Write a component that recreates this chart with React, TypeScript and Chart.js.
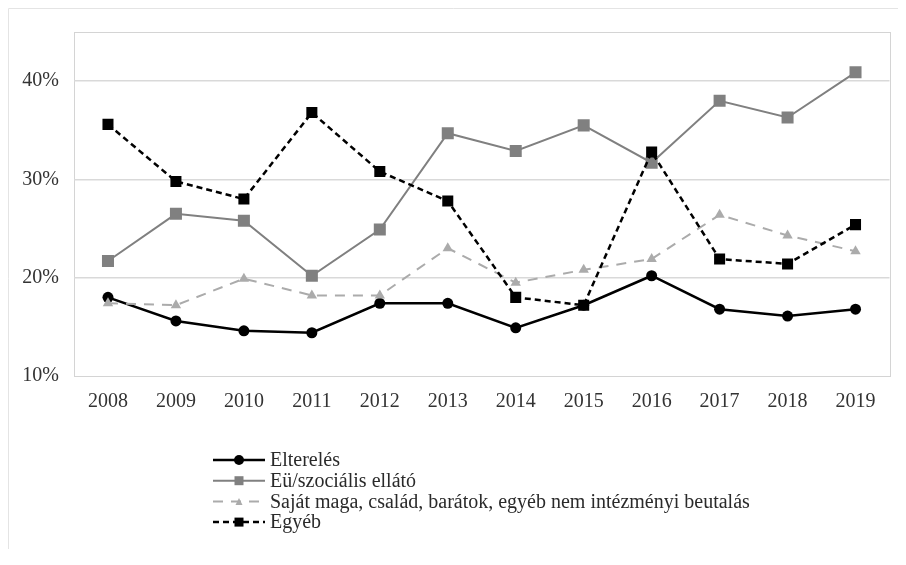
import React, { useEffect, useRef } from "react";
import { Chart, registerables } from "chart.js";

Chart.register(...registerables);

const years = ["2008", "2009", "2010", "2011", "2012", "2013", "2014", "2015", "2016", "2017", "2018", "2019"];
const elterelesValues = [18.0, 15.6, 14.6, 14.4, 17.4, 17.4, 14.9, 17.2, 20.2, 16.8, 16.1, 16.8];
const euValues = [21.7, 26.5, 25.8, 20.2, 24.9, 34.7, 32.9, 35.5, 31.7, 38.0, 36.3, 40.9];
const sajatValues = [17.4, 17.2, 19.9, 18.2, 18.2, 23.0, 19.5, 20.8, 21.9, 26.4, 24.3, 22.7];
const egyebValues = [35.6, 29.8, 28.0, 36.8, 30.8, 27.8, 18.0, 17.2, 32.8, 21.9, 21.4, 25.4];
const seriesLabels = [
  "Elterelés",
  "Eü/szociális ellátó",
  "Saját maga, család, barátok, egyéb nem intézményi beutalás",
  "Egyéb",
];
const yTicks = [10, 20, 30, 40];

const FONT = "'Liberation Serif', 'Times New Roman', serif";

function drawMarker(ctx: CanvasRenderingContext2D, style: string, x: number, y: number, size: number, color: string) {
  ctx.save();
  ctx.fillStyle = color;
  ctx.beginPath();
  if (style === "circle") {
    ctx.arc(x, y, size / 2, 0, Math.PI * 2);
  } else if (style === "rect") {
    ctx.rect(x - size / 2, y - size / 2, size, size);
  } else if (style === "triangle") {
    ctx.moveTo(x, y - size / 2);
    ctx.lineTo(x + size / 2, y + size / 2);
    ctx.lineTo(x - size / 2, y + size / 2);
    ctx.closePath();
  }
  ctx.fill();
  ctx.restore();
}

const framePlugin = {
  id: "frame",
  beforeDraw(chart: any) {
    const ctx = chart.ctx;
    ctx.save();
    ctx.strokeStyle = "#e4e4e4";
    ctx.lineWidth = 1;
    ctx.beginPath();
    ctx.moveTo(0.5, chart.height);
    ctx.lineTo(0.5, 0.5);
    ctx.lineTo(chart.width, 0.5);
    ctx.stroke();
    const a = chart.chartArea;
    ctx.strokeStyle = "#d4d4d4";
    ctx.strokeRect(Math.round(a.left) + 0.5, Math.round(a.top) + 0.5, Math.round(a.right - a.left), Math.round(a.bottom - a.top));
    ctx.restore();
  },
};

const legendPlugin = {
  id: "customLegend",
  afterDraw(chart: any) {
    const ctx = chart.ctx;
    const x0 = 205;
    const y0 = 452;
    const dy = 20.7;
    const lineLen = 52;
    chart.data.datasets.forEach((ds: any, i: number) => {
      const y = y0 + i * dy;
      ctx.save();
      ctx.strokeStyle = ds.borderColor;
      ctx.lineWidth = ds.borderWidth;
      ctx.setLineDash(ds.borderDash || []);
      ctx.beginPath();
      ctx.moveTo(x0, y);
      ctx.lineTo(x0 + lineLen, y);
      ctx.stroke();
      ctx.setLineDash([]);
      drawMarker(ctx, ds.pointStyle, x0 + lineLen / 2, y, ds.legendMarkerSize, ds.pointBackgroundColor);
      ctx.fillStyle = "#2a2a2a";
      ctx.font = `20px ${FONT}`;
      ctx.textBaseline = "middle";
      ctx.textAlign = "left";
      ctx.fillText(ds.label, x0 + lineLen + 5, y + 1);
      ctx.restore();
    });
  },
};

export default function App() {
  const canvasRef = useRef<HTMLCanvasElement | null>(null);

  useEffect(() => {
    if (!canvasRef.current) return;
    const chart = new Chart(canvasRef.current, {
      type: "line",
      data: {
        labels: years,
        datasets: [
          {
            label: seriesLabels[0],
            data: elterelesValues,
            borderColor: "#000000",
            backgroundColor: "#000000",
            pointBackgroundColor: "#000000",
            pointBorderColor: "#000000",
            borderWidth: 2.5,
            pointStyle: "circle",
            pointRadius: 5.5,
            pointBorderWidth: 0,
            tension: 0,
            order: 3,
            legendMarkerSize: 10,
          } as any,
          {
            label: seriesLabels[1],
            data: euValues,
            borderColor: "#808080",
            backgroundColor: "#808080",
            pointBackgroundColor: "#808080",
            pointBorderColor: "#808080",
            borderWidth: 2,
            pointStyle: "rect",
            pointRadius: 8.5,
            pointBorderWidth: 0,
            tension: 0,
            order: 2,
            legendMarkerSize: 9,
          } as any,
          {
            label: seriesLabels[2],
            data: sajatValues,
            borderColor: "#ababab",
            backgroundColor: "#ababab",
            pointBackgroundColor: "#ababab",
            pointBorderColor: "#ababab",
            borderWidth: 2,
            borderDash: [10, 8],
            pointStyle: "triangle",
            pointRadius: 6,
            pointBorderWidth: 0,
            tension: 0,
            order: 1,
            legendMarkerSize: 7,
          } as any,
          {
            label: seriesLabels[3],
            data: egyebValues,
            borderColor: "#000000",
            backgroundColor: "#000000",
            pointBackgroundColor: "#000000",
            pointBorderColor: "#000000",
            borderWidth: 2.5,
            borderDash: [6, 4],
            pointStyle: "rect",
            pointRadius: 7.8,
            pointBorderWidth: 0,
            tension: 0,
            order: 0,
            legendMarkerSize: 9,
          } as any,
        ],
      },
      options: {
        animation: false,
        responsive: true,
        maintainAspectRatio: false,
        layout: { padding: { top: 24, right: 6, bottom: 133, left: 0 } },
        plugins: {
          legend: { display: false },
          tooltip: { enabled: false },
        },
        scales: {
          x: {
            offset: true,
            grid: { display: false, drawTicks: false },
            border: { display: false },
            ticks: {
              padding: 14,
              color: "#333",
              font: { family: FONT, size: 20 },
              maxRotation: 0,
            },
            afterFit: (s: any) => {
              s.height = 40;
            },
          },
          y: {
            min: 10,
            max: 45,
            afterBuildTicks: (s: any) => {
              s.ticks = yTicks.map((v) => ({ value: v }));
            },
            grid: {
              color: (c: any) => (c.tick && c.tick.value === 10 ? "rgba(0,0,0,0)" : "#d9d9d9"),
              lineWidth: 1.5,
              drawTicks: false,
            },
            border: { display: false },
            ticks: {
              padding: 15,
              color: "#333",
              font: { family: FONT, size: 20 },
              callback: (v: any) => `${v}%`,
            },
            afterFit: (s: any) => {
              s.width = 66;
              s.paddingTop = 0;
              s.paddingBottom = 0;
            },
          },
        },
      },
      plugins: [framePlugin, legendPlugin],
    });
    return () => chart.destroy();
  }, []);

  return (
    <div style={{ width: 890, height: 541, position: "relative" }}>
      <canvas ref={canvasRef} />
    </div>
  );
}
